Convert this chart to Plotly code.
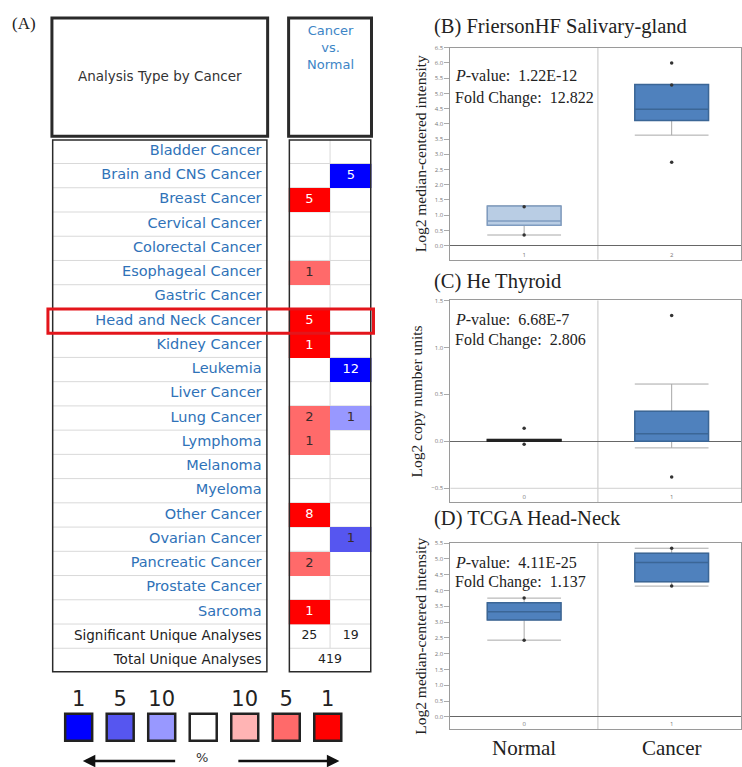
import plotly.graph_objects as go

W, H = 742, 767

# ---------------- Data ----------------
cancer_types = ["Bladder Cancer", "Brain and CNS Cancer", "Breast Cancer", "Cervical Cancer",
                "Colorectal Cancer", "Esophageal Cancer", "Gastric Cancer", "Head and Neck Cancer",
                "Kidney Cancer", "Leukemia", "Liver Cancer", "Lung Cancer", "Lymphoma", "Melanoma",
                "Myeloma", "Other Cancer", "Ovarian Cancer", "Pancreatic Cancer", "Prostate Cancer",
                "Sarcoma"]
up_counts = [None, None, 5, None, None, 1, None, 5, 1, None, None, 2, 1, None, None, 8, None, 2, None, 1]
up_rank = [None, None, 1, None, None, 5, None, 1, 1, None, None, 5, 5, None, None, 1, None, 5, None, 1]
down_counts = [None, 5, None, None, None, None, None, None, None, 12, None, 1, None, None, None, None, 1, None, None, None]
down_rank = [None, 1, None, None, None, None, None, None, None, 1, None, 10, None, None, None, None, 5, None, None, None]
summary_labels = ["Significant Unique Analyses", "Total Unique Analyses"]
significant_counts = [25, 19]
total_unique = 419
highlight_type = "Head and Neck Cancer"
legend_ranks = [1, 5, 10, None, 10, 5, 1]
legend_dirs = [-1, -1, -1, 0, 1, 1, 1]

# Panel B
b_title = "(B) FriersonHF Salivary-gland"
b_groups = ["1", "2"]
b_q1 = [0.67, 4.11]
b_median = [0.81, 4.48]
b_q3 = [1.30, 5.29]
b_low = [0.35, 3.63]
b_high = [1.30, 5.29]
b_points = [[1.28, 0.35], [6.00, 5.28, 2.74]]
b_pvalue, b_fold = "1.22E-12", "12.822"

# Panel C
c_title = "(C) He Thyroid"
c_groups = ["0", "1"]
c_q1 = [0.00, 0.00]
c_median = [0.01, 0.08]
c_q3 = [0.02, 0.32]
c_low = [0.00, -0.07]
c_high = [0.02, 0.61]
c_points = [[0.14, -0.03], [1.34, -0.38]]
c_pvalue, c_fold = "6.68E-7", "2.806"
c_refline = -0.5

# Panel D
d_title = "(D) TCGA Head-Neck"
d_groups = ["0", "1"]
d_names = ["Normal", "Cancer"]
d_q1 = [3.07, 4.28]
d_median = [3.33, 4.89]
d_q3 = [3.61, 5.18]
d_low = [2.43, 4.14]
d_high = [3.76, 5.34]
d_points = [[3.76, 2.43], [5.34, 4.14]]
d_pvalue, d_fold = "4.11E-25", "1.137"

# ---------------- Helpers ----------------
def px(p):
    return p / W

def py(p):
    return 1 - p / H

rank_level = {1: 3, 5: 2, 10: 1}
level_colors = {-3: "#0000ff", -2: "#5656f0", -1: "#9898ff", 0: "#ffffff",
                1: "#ffb4b4", 2: "#ff6a6a", 3: "#ff0000"}
levels = list(range(-3, 4))
colorscale = []
for i, L in enumerate(levels):
    lo = max(0.0, (i - 0.5) / 6)
    hi = min(1.0, (i + 0.5) / 6)
    colorscale.append([lo, level_colors[L]])
    colorscale.append([hi, level_colors[L]])

SERIF = "Liberation Serif"
SANS = "DejaVu Sans"
n_rows = len(cancer_types) + len(summary_labels)
table_yrange = [n_rows - 0.5, -0.5]

fig = go.Figure()
shapes = []
annotations = []

# ---------------- Table: heatmap of cells ----------------
z = []
for i in range(len(cancer_types)):
    u = rank_level[up_rank[i]] if up_counts[i] is not None else None
    d = -rank_level[down_rank[i]] if down_counts[i] is not None else None
    z.append([u, d])
fig.add_trace(go.Heatmap(z=z, x=[0, 1], y=list(range(len(cancer_types))), colorscale=colorscale,
                         zmin=-3, zmax=3, showscale=False, hoverinfo="skip",
                         xaxis="x4", yaxis="y4"))

# cell numbers
wx, wy, wt, dx, dy, dt = [], [], [], [], [], []
for i in range(len(cancer_types)):
    for col, (cnt, rk) in enumerate([(up_counts[i], up_rank[i]), (down_counts[i], down_rank[i])]):
        if cnt is None:
            continue
        if rk == 1:
            wx.append(col); wy.append(i); wt.append(str(cnt))
        else:
            dx.append(col); dy.append(i); dt.append(str(cnt))
fig.add_trace(go.Scatter(x=wx, y=wy, text=wt, mode="text", textposition="middle center",
                         textfont=dict(family=SANS, size=13, color="white"),
                         hoverinfo="skip", xaxis="x4", yaxis="y4"))
fig.add_trace(go.Scatter(x=dx, y=dy, text=dt, mode="text", textposition="middle center",
                         textfont=dict(family=SANS, size=13, color="#3a2a2a"),
                         hoverinfo="skip", xaxis="x4", yaxis="y4"))
sig_row = len(cancer_types)
tot_row = sig_row + 1
fig.add_trace(go.Scatter(x=[0, 1, 0.5], y=[sig_row, sig_row, tot_row],
                         text=[str(significant_counts[0]), str(significant_counts[1]), str(total_unique)],
                         mode="text", textposition="middle center",
                         textfont=dict(family=SANS, size=12.5, color="#222"),
                         hoverinfo="skip", xaxis="x4", yaxis="y4"))

# names
fig.add_trace(go.Scatter(x=[0.972] * len(cancer_types), y=list(range(len(cancer_types))),
                         text=cancer_types, mode="text", textposition="middle left",
                         textfont=dict(family=SANS, size=14.5, color="#2f72b8"),
                         hoverinfo="skip", xaxis="x5", yaxis="y5"))
fig.add_trace(go.Scatter(x=[0.972] * len(summary_labels), y=[sig_row, tot_row],
                         text=summary_labels, mode="text", textposition="middle left",
                         textfont=dict(family=SANS, size=13.5, color="#222"),
                         hoverinfo="skip", xaxis="x5", yaxis="y5"))

GRID = "#d9d9d9"
BORDER = "#2a2a2a"
for k in range(n_rows - 1):
    shapes.append(dict(type="line", xref="x5", yref="y5", x0=0, x1=1, y0=k + 0.5, y1=k + 0.5,
                       line=dict(color=GRID, width=1), layer="below"))
    shapes.append(dict(type="line", xref="x4", yref="y4", x0=-0.5, x1=1.5, y0=k + 0.5, y1=k + 0.5,
                       line=dict(color=GRID, width=1), layer="below"))
shapes.append(dict(type="line", xref="x4", yref="y4", x0=0.5, x1=0.5, y0=-0.5, y1=sig_row + 0.5,
                   line=dict(color=GRID, width=1), layer="below"))
shapes.append(dict(type="rect", xref="x5", yref="y5", x0=0, x1=1, y0=-0.5, y1=n_rows - 0.5,
                   line=dict(color=BORDER, width=3)))
shapes.append(dict(type="rect", xref="x4", yref="y4", x0=-0.5, x1=1.5, y0=-0.5, y1=n_rows - 0.5,
                   line=dict(color=BORDER, width=3)))
# header boxes
shapes.append(dict(type="rect", xref="paper", yref="paper", x0=px(52), x1=px(268), y0=py(133), y1=py(14),
                   line=dict(color=BORDER, width=3)))
shapes.append(dict(type="rect", xref="paper", yref="paper", x0=px(289), x1=px(372), y0=py(133), y1=py(14),
                   line=dict(color=BORDER, width=3)))
annotations.append(dict(text="Analysis Type by Cancer", x=px(160), y=py(72), xref="paper", yref="paper",
                        xanchor="center", yanchor="middle", showarrow=False,
                        font=dict(family=SANS, size=13.5, color="#333")))
annotations.append(dict(text="Cancer<br>vs.<br>Normal", x=px(331), y=py(17), xref="paper", yref="paper",
                        xanchor="center", yanchor="top", showarrow=False, align="center",
                        font=dict(family=SANS, size=13, color="#3d85c6")))
annotations.append(dict(text="(A)", x=px(10), y=py(20), xref="paper", yref="paper", xanchor="left",
                        yanchor="middle", showarrow=False, font=dict(family=SERIF, size=17, color="#222")))
# highlight
hi_row = cancer_types.index(highlight_type)
shapes.append(dict(type="rect", xref="paper", yref="y4", x0=px(48), x1=px(374),
                   y0=hi_row - 0.5, y1=hi_row + 0.5, line=dict(color="#e3151b", width=3)))

# ---------------- Color legend ----------------
fig.add_trace(go.Scatter(x=list(range(len(legend_ranks))), y=[40] * len(legend_ranks), mode="markers",
                         marker=dict(symbol="square", size=27,
                                     color=[level_colors[dr * (rank_level[r] if r else 0)] for dr, r in zip(legend_dirs, legend_ranks)],
                                     line=dict(color="#222", width=2.5)),
                         hoverinfo="skip", xaxis="x6", yaxis="y6"))
fig.add_trace(go.Scatter(x=list(range(len(legend_ranks))), y=[67] * len(legend_ranks),
                         text=[str(r) if r else "" for r in legend_ranks], mode="text",
                         textposition="middle center",
                         textfont=dict(family=SANS, size=21, color="#222"),
                         hoverinfo="skip", xaxis="x6", yaxis="y6"))
annotations.append(dict(x=0.1, y=6, ax=2.36, ay=6, xref="x6", yref="y6", axref="x6", ayref="y6",
                        text="", showarrow=True, arrowhead=2, arrowsize=1, arrowwidth=2.5, arrowcolor="#111"))
annotations.append(dict(x=6.28, y=6, ax=3.81, ay=6, xref="x6", yref="y6", axref="x6", ayref="y6",
                        text="", showarrow=True, arrowhead=2, arrowsize=1, arrowwidth=2.5, arrowcolor="#111"))
annotations.append(dict(x=2.96, y=10, xref="x6", yref="y6", text="%", showarrow=False,
                        font=dict(family=SANS, size=13, color="#333")))

# ---------------- Box plot panels ----------------
panels = [
    dict(n=1, title=b_title, ty=23, groups=b_groups, q1=b_q1, med=b_median, q3=b_q3, lo=b_low, hi=b_high,
         pts=b_points, fills=["#b9cde4", "#4f81bd"], edges=["#7f9cc0", "#3b6696"],
         p=b_pvalue, f=b_fold, ptxt=72, ftxt=94, ydom=[py(257), py(44)], yr=[-0.46, 6.5],
         ytitle="Log2 median-centered intensity", ref=None),
    dict(n=2, title=c_title, ty=279, groups=c_groups, q1=c_q1, med=c_median, q3=c_q3, lo=c_low, hi=c_high,
         pts=c_points, fills=["#222222", "#4f81bd"], edges=["#222222", "#3b6696"],
         p=c_pvalue, f=c_fold, ptxt=317, ftxt=338, ydom=[py(501), py(298)], yr=[-0.65, 1.5],
         ytitle="Log2 copy number units", ref=c_refline),
    dict(n=3, title=d_title, ty=517, groups=d_groups, q1=d_q1, med=d_median, q3=d_q3, lo=d_low, hi=d_high,
         pts=d_points, fills=["#4f81bd", "#4f81bd"], edges=["#3b6696", "#3b6696"],
         p=d_pvalue, f=d_fold, ptxt=561, ftxt=581, ydom=[py(729), py(542)], yr=[-0.39, 5.5],
         ytitle="Log2 median-centered intensity", ref=None),
]

layout_axes = {}
for P in panels:
    n = P["n"]
    xa = "x" if n == 1 else f"x{n}"
    ya = "y" if n == 1 else f"y{n}"
    for i, g in enumerate(P["groups"]):
        fig.add_trace(go.Box(x=[g], q1=[P["q1"][i]], median=[P["med"][i]], q3=[P["q3"][i]],
                             lowerfence=[P["lo"][i]], upperfence=[P["hi"][i]], width=0.5, whiskerwidth=1,
                             fillcolor=P["fills"][i], line=dict(color="#a8a8a8", width=1),
                             boxpoints=False, hoverinfo="skip", xaxis=xa, yaxis=ya))
        fig.add_trace(go.Box(x=[g], q1=[P["q1"][i]], median=[P["med"][i]], q3=[P["q3"][i]],
                             lowerfence=[P["q1"][i]], upperfence=[P["q3"][i]], width=0.5, whiskerwidth=1,
                             fillcolor=P["fills"][i], line=dict(color=P["edges"][i], width=1.5),
                             boxpoints=False, hoverinfo="skip", xaxis=xa, yaxis=ya))
        fig.add_trace(go.Scatter(x=[g] * len(P["pts"][i]), y=P["pts"][i], mode="markers",
                                 marker=dict(size=3.5, color="#333"), hoverinfo="skip",
                                 xaxis=xa, yaxis=ya))
    shapes.append(dict(type="line", xref=xa, yref=f"{ya} domain", x0=0.5, x1=0.5, y0=0, y1=1,
                       line=dict(color="#c4c4c4", width=1), layer="below"))
    if P["ref"] is not None:
        shapes.append(dict(type="line", xref=f"{xa} domain", yref=ya, x0=0, x1=1, y0=P["ref"], y1=P["ref"],
                           line=dict(color="#d0d0d0", width=1), layer="below"))
    annotations.append(dict(text=P["title"], x=px(433), y=py(P["ty"]), xref="paper", yref="paper",
                            xanchor="left", yanchor="middle", showarrow=False,
                            font=dict(family=SERIF, size=20.5, color="#222")))
    annotations.append(dict(text="<i>P</i>-value:  " + P["p"], x=px(454), y=py(P["ptxt"]), xref="paper",
                            yref="paper", xanchor="left", yanchor="middle", showarrow=False,
                            font=dict(family=SERIF, size=16, color="#222")))
    annotations.append(dict(text="Fold Change:  " + P["f"], x=px(454), y=py(P["ftxt"]), xref="paper",
                            yref="paper", xanchor="left", yanchor="middle", showarrow=False,
                            font=dict(family=SERIF, size=16, color="#222")))
    xkey = "xaxis" if n == 1 else f"xaxis{n}"
    ykey = "yaxis" if n == 1 else f"yaxis{n}"
    layout_axes[xkey] = dict(domain=[px(451), 1], anchor=ya, type="category",
                             categoryorder="array", categoryarray=P["groups"],
                             range=[-0.5, 1.47], showline=True, mirror=True, linecolor="#9a9a9a",
                             ticks="", ticklabelposition="inside", tickfont=dict(size=6, color="#777"),
                             showgrid=False, zeroline=False, fixedrange=True)
    layout_axes[ykey] = dict(domain=P["ydom"], anchor=xa, range=P["yr"], dtick=0.5, tick0=0,
                             tickformat=".1f", showline=True, mirror=True, linecolor="#9a9a9a",
                             ticks="outside", ticklen=5, tickcolor="#aaa",
                             tickfont=dict(size=6, color="#777"), showgrid=False,
                             zeroline=True, zerolinecolor="#666", zerolinewidth=1,
                             title=dict(text=P["ytitle"], standoff=4,
                                        font=dict(family=SERIF, size=15.5, color="#222")),
                             fixedrange=True)

for i, name in enumerate(d_names):
    annotations.append(dict(text=name, x=i, y=py(748), xref="x3", yref="paper", showarrow=False,
                            xanchor="center", yanchor="middle",
                            font=dict(family=SERIF, size=21, color="#222")))

hidden = dict(showgrid=False, zeroline=False, showticklabels=False, ticks="", showline=False, fixedrange=True)
layout_axes["xaxis4"] = dict(domain=[px(289), px(372)], anchor="y4", range=[-0.5, 1.5], **hidden)
layout_axes["yaxis4"] = dict(domain=[py(672), py(136)], anchor="x4", range=table_yrange, **hidden)
layout_axes["xaxis5"] = dict(domain=[px(52), px(268)], anchor="y5", range=[0, 1], **hidden)
layout_axes["yaxis5"] = dict(domain=[py(672), py(136)], anchor="x5", range=table_yrange, **hidden)
layout_axes["xaxis6"] = dict(domain=[px(58), px(349)], anchor="y6", range=[-0.5, 6.5], **hidden)
layout_axes["yaxis6"] = dict(domain=[py(767), py(685)], anchor="x6", range=[0, 82], **hidden)

fig.update_layout(width=W, height=H, margin=dict(l=0, r=0, t=0, b=0), paper_bgcolor="white",
                  plot_bgcolor="white", showlegend=False, boxmode="overlay",
                  shapes=shapes, annotations=annotations, **layout_axes)

fig.write_html("out.html", config={"displayModeBar": False},
               post_script="document.body.style.margin='0px';document.body.style.overflow='hidden';")
